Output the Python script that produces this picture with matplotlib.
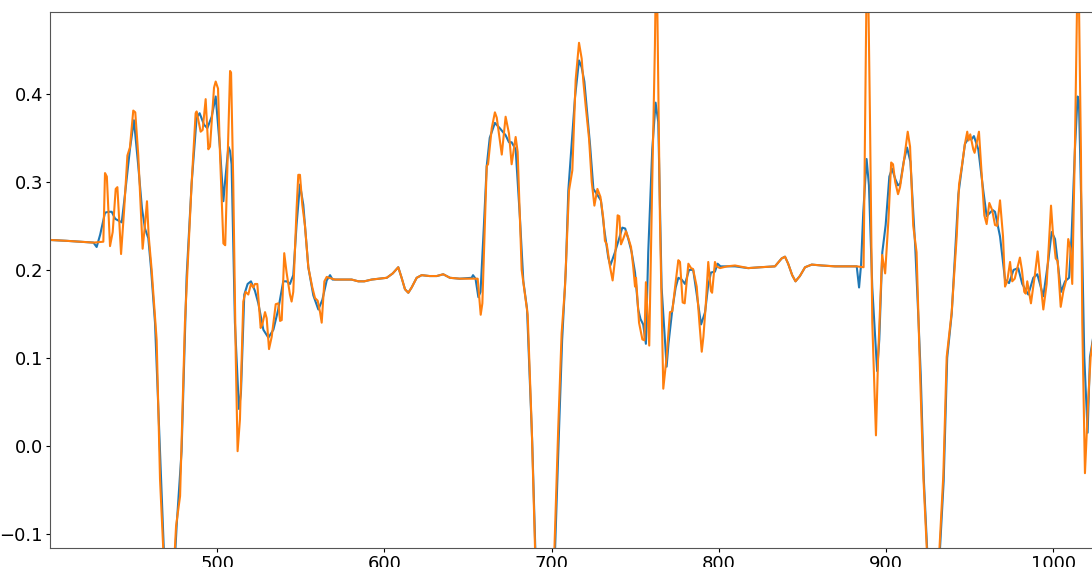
import numpy as np
import matplotlib.pyplot as plt

# blue series
x_blue = [400, 410, 418, 426, 427.9, 430, 432.9, 435, 436.9, 439, 442.9, 444.5, 447.8, 450.2,
          452.8, 455, 456.8, 458.8, 460.5, 462.8, 464.8, 471, 475.8, 478.7, 481.7, 484.7, 487.7,
          489.5, 492.1, 494.1, 496.7, 499.1, 501.7, 503.7, 504.7, 506.7, 507.7, 508.6, 510.6, 513.0,
          514.2, 516.2, 518.2, 520.2, 522.6, 524.6, 527.6, 530.6, 533.6, 536.5, 539.5, 541.5, 543.5,
          545.5, 547.5, 549.5, 551.5, 554.5, 557.5, 560.5, 562.9, 565.5, 567.5, 569,
          575, 580.4, 584.4, 588, 592.4, 597, 601.4, 605, 608.3, 610.3, 612.3, 614.3, 616.3, 619.3,
          622.3, 627, 631.3, 635.2, 639.2, 645, 652.2, 653.0, 654.5, 656.2, 657.5, 659.5, 661.2, 663,
          666.1, 669, 672.5, 674.5, 676.1, 678.5, 681.1, 683.1, 685.3, 688.4, 695.8, 704.3, 706.3,
          708.5, 710.0, 714.0, 716.4, 718.0, 719.6, 723, 725, 727.4, 729.5, 731.5, 733.9, 735.1,
          737.9, 740.3, 742.3, 744, 745.9, 747.9, 749.9, 751.8, 753.2, 754.8, 756.4, 757.8, 760.2,
          762.2, 763.8, 765.8, 768.8, 769.9, 772.2, 774.2, 775.8, 777.8, 779.8, 782.2, 784.7, 786.8,
          789.4, 791.8, 793.5, 795.3, 797.7, 799.3, 801, 809.7, 817.6, 825, 833.6, 837.6, 839.6,
          841.5, 843.9, 845.9, 848.5, 851.6, 855.6, 861.5, 869.5, 882.5, 883.9, 885.1, 886.4, 888.4,
          889.8, 891.8, 894.7, 896, 897.8, 899.8, 902.0, 903.6, 905.6, 907.2, 908.5, 910.6, 912.6,
          914.6, 916.5, 917.5, 919.5, 920.8, 922.6, 928.2, 934.5, 936.6, 939.3, 943.3, 947.2, 949.5,
          951, 952.6, 955.2, 958.2, 960.2, 963.8, 965.2, 968.2, 971.2, 973.6, 976.3, 979.1, 981.5,
          985.1, 988.1, 990.5, 994.1, 997.1, 999.1, 1001.1, 1004.7, 1007.1, 1009.5, 1011.0, 1013.0,
          1014.6, 1015.4, 1017.0, 1018.6, 1020.6, 1022.0, 1024.5]
y_blue = [0.234, 0.233, 0.232, 0.231, 0.226, 0.240, 0.265, 0.266, 0.266, 0.258, 0.254, 0.280, 0.337,
          0.370, 0.318, 0.270, 0.247, 0.236, 0.200, 0.140, 0.042, -0.26, -0.089, -0.006, 0.192,
          0.298, 0.373, 0.378, 0.365, 0.361, 0.374, 0.397, 0.337, 0.278, 0.300, 0.340, 0.335, 0.320,
          0.140, 0.042, 0.060, 0.172, 0.184, 0.187, 0.176, 0.162, 0.132, 0.123, 0.132, 0.155, 0.187,
          0.187, 0.184, 0.194, 0.252, 0.297, 0.274, 0.203, 0.171, 0.155, 0.166, 0.188, 0.194, 0.189,
          0.189, 0.189, 0.187, 0.187, 0.189, 0.190, 0.191, 0.196, 0.203, 0.191, 0.178, 0.174, 0.180,
          0.191, 0.194, 0.193, 0.193, 0.195, 0.191, 0.190, 0.191, 0.194, 0.190, 0.169, 0.175, 0.250,
          0.318, 0.350, 0.367, 0.361, 0.353, 0.345, 0.345, 0.337, 0.258, 0.187, 0.156, 0.005, -0.48,
          0.010, 0.120, 0.200, 0.290, 0.396, 0.438, 0.430, 0.414, 0.342, 0.292, 0.285, 0.279, 0.246,
          0.214, 0.205, 0.220, 0.235, 0.248, 0.247, 0.235, 0.220, 0.197, 0.155, 0.144, 0.138, 0.116,
          0.220, 0.337, 0.390, 0.368, 0.180, 0.090, 0.116, 0.155, 0.180, 0.191, 0.189, 0.184, 0.200,
          0.200, 0.172, 0.138, 0.152, 0.180, 0.197, 0.198, 0.207, 0.204, 0.204, 0.202, 0.203, 0.204,
          0.213, 0.215, 0.207, 0.194, 0.187, 0.193, 0.203, 0.206, 0.205, 0.204, 0.204, 0.180, 0.206,
          0.265, 0.326, 0.296, 0.180, 0.085, 0.121, 0.220, 0.251, 0.306, 0.315, 0.303, 0.296, 0.298,
          0.323, 0.339, 0.323, 0.260, 0.226, 0.140, 0.080, -0.037, -0.26, -0.040, 0.100, 0.150,
          0.286, 0.343, 0.350, 0.348, 0.352, 0.337, 0.290, 0.261, 0.268, 0.266, 0.238, 0.189, 0.185,
          0.200, 0.202, 0.184, 0.172, 0.191, 0.195, 0.170, 0.211, 0.243, 0.235, 0.175, 0.187, 0.191,
          0.238, 0.337, 0.397, 0.392, 0.258, 0.101, 0.015, 0.101, 0.130]

# orange series
x_orange = [400, 410, 418, 426, 431.9, 432.9, 434, 435.9, 437.5, 439.3, 440.3, 442.5, 444.3, 446.3,
            447.8, 449.8, 451, 452.8, 455.4, 456.8, 458.0, 459.0, 460.8, 463.8, 465.8, 471.0, 475.4,
            477.8, 480.7, 482.1, 484.7, 487.1, 487.7, 490.1, 491.3, 493.1, 494.7, 495.7, 498.1, 499.1,
            500.5, 501.7, 503.7, 504.8, 507.7, 508.3, 509.6, 511.1, 512.2, 513.6, 515.6, 517.0, 518.6,
            520.2, 521.6, 522.6, 524.0, 526.0, 527.0, 528.6, 529.6, 531.0, 532.6, 535.0, 536.6, 537.6,
            538.6, 540.1, 541.5, 543.5, 544.5, 545.5, 547.5, 548.5, 549.5, 550.9, 552.5, 554.5, 556.9,
            558.5, 560.1, 561.5, 562.5, 564.1, 565.5, 566.9, 570.5,
            575, 580.4, 584.4, 588, 592.4, 597, 601.4, 605, 608.3, 610.3, 612.3, 614.3, 616.3, 619.3,
            622.3, 627, 631.3, 635.2, 639.2, 645, 655.8, 657.6, 658.6, 661.2, 662.0, 664.2, 666.1,
            667.2, 670.2, 672.5, 674.5, 676.1, 678.5, 679.7, 682.1, 685.7, 688.1, 695.5, 704.0, 706.0,
            708.0, 710.4, 712.4, 714.4, 716.4, 718.0, 719.0, 720.4, 722.4, 724, 725.6, 727.4, 729.2,
            730.9, 731.9, 733.0, 734.9, 736.5, 737.9, 739.5, 740.5, 741.5, 742.8, 744.5, 745.9, 747.5,
            748.8, 749.9, 750.5, 752.3, 754.3, 755.5, 756.4, 758.4, 760.2, 761.8, 762.7, 764.8, 766.8,
            768.8, 770.8, 772.2, 774.2, 775.8, 776.8, 778.4, 779.6, 781.8, 783.4, 784.6, 786.8, 788.4,
            789.8, 790.8, 792.2, 793.7, 795.3, 796.0, 797.7, 798.7, 800.7, 805, 809.7, 817.6, 825,
            833.6, 837.6, 839.6, 841.5, 843.9, 845.9, 848.5, 851.6, 855.6, 861.5, 869.5, 882.5, 886.6,
            888.8, 890.4, 891.8, 894.0, 895.3, 897.7, 899.5, 901.5, 903.1, 904.2, 905.5, 907.2, 908.4,
            910.6, 913.0, 914.4, 916.3, 918.3, 920.4, 922.4, 928.0, 934.3, 936.3, 939.3, 942.3, 943.7,
            945.4, 947.2, 948.6, 949.4, 950.4, 952.2, 953.0, 955.6, 957.6, 958.8, 960.2, 961.8, 963.5,
            965.2, 966.5, 968.2, 970.0, 971.2, 972.5, 974.2, 975.5, 977.0, 980.1, 981.3, 982.7, 983.6,
            984.5, 986.7, 989.1, 990.7, 992.7, 994.1, 996.1, 998.7, 999.8, 1001.5, 1002.7, 1004.5,
            1006.1, 1007.6, 1009.0, 1010.2, 1011.4, 1013.0, 1014.9, 1016.6, 1017.4, 1019.0, 1021.0,
            1022.4, 1024.5]
y_orange = [0.234, 0.233, 0.232, 0.231, 0.232, 0.310, 0.306, 0.227, 0.243, 0.292, 0.294, 0.218, 0.267,
            0.330, 0.339, 0.381, 0.379, 0.330, 0.224, 0.251, 0.278, 0.239, 0.200, 0.120, -0.038, -0.25,
            -0.091, -0.057, 0.140, 0.196, 0.298, 0.378, 0.380, 0.357, 0.359, 0.394, 0.337, 0.340, 0.407,
            0.414, 0.406, 0.330, 0.230, 0.228, 0.426, 0.424, 0.300, 0.101, -0.006, 0.030, 0.164, 0.175,
            0.172, 0.184, 0.180, 0.184, 0.184, 0.134, 0.138, 0.152, 0.145, 0.110, 0.124, 0.161, 0.162,
            0.142, 0.143, 0.219, 0.197, 0.172, 0.164, 0.175, 0.270, 0.308, 0.308, 0.274, 0.250, 0.203,
            0.180, 0.168, 0.165, 0.152, 0.140, 0.187, 0.192, 0.191, 0.189,
            0.189, 0.189, 0.187, 0.187, 0.189, 0.190, 0.191, 0.196, 0.203, 0.191, 0.178, 0.174, 0.180,
            0.191, 0.194, 0.193, 0.193, 0.195, 0.191, 0.190, 0.190, 0.149, 0.162, 0.318, 0.320, 0.361,
            0.379, 0.373, 0.331, 0.374, 0.355, 0.320, 0.351, 0.334, 0.200, 0.149, 0.022, -0.49, 0.022,
            0.128, 0.180, 0.290, 0.313, 0.416, 0.458, 0.440, 0.414, 0.386, 0.349, 0.300, 0.273, 0.292,
            0.283, 0.259, 0.233, 0.229, 0.204, 0.188, 0.211, 0.262, 0.261, 0.229, 0.235, 0.244, 0.236,
            0.226, 0.204, 0.181, 0.191, 0.140, 0.121, 0.120, 0.186, 0.114, 0.300, 0.455, 0.58, 0.258,
            0.065, 0.101, 0.152, 0.153, 0.186, 0.211, 0.209, 0.163, 0.162, 0.207, 0.202, 0.201, 0.181,
            0.140, 0.107, 0.124, 0.160, 0.209, 0.176, 0.174, 0.209, 0.204, 0.202, 0.204, 0.205, 0.202,
            0.203, 0.204, 0.213, 0.215, 0.207, 0.194, 0.187, 0.193, 0.203, 0.206, 0.205, 0.204, 0.204,
            0.203, 0.60, 0.376, 0.140, 0.012, 0.101, 0.217, 0.196, 0.258, 0.322, 0.320, 0.300, 0.286,
            0.294, 0.322, 0.357, 0.340, 0.250, 0.220, 0.081, -0.037, -0.26, -0.033, 0.101, 0.152, 0.238,
            0.297, 0.318, 0.343, 0.357, 0.347, 0.354, 0.337, 0.333, 0.357, 0.297, 0.262, 0.252, 0.276,
            0.268, 0.251, 0.250, 0.279, 0.238, 0.181, 0.187, 0.209, 0.187, 0.190, 0.214, 0.200, 0.175,
            0.173, 0.187, 0.162, 0.195, 0.221, 0.181, 0.155, 0.184, 0.273, 0.243, 0.213, 0.210, 0.158,
            0.176, 0.187, 0.235, 0.225, 0.184, 0.340, 0.58, 0.333, 0.140, -0.031, 0.054, 0.101, 0.130]

fig = plt.figure(figsize=(10.92, 5.67), dpi=100)
# axes runs past the right edge of the figure, as in the reference
ax = fig.add_axes([50 / 1092, 19 / 567, 1050 / 1092, 536 / 567])

ax.plot(x_blue, y_blue, color='tab:blue', linewidth=1.5)
ax.plot(x_orange, y_orange, color='tab:orange', linewidth=1.5)

ax.set_xlim(400, 1028)
ax.set_ylim(-0.116, 0.493)
ax.set_xticks([500, 600, 700, 800, 900, 1000])
ax.set_yticks([-0.1, 0.0, 0.1, 0.2, 0.3, 0.4])
ax.tick_params(labelsize=13, length=3, pad=2)
for s in ax.spines.values():
    s.set_color('#555555')

plt.savefig('out.png')
